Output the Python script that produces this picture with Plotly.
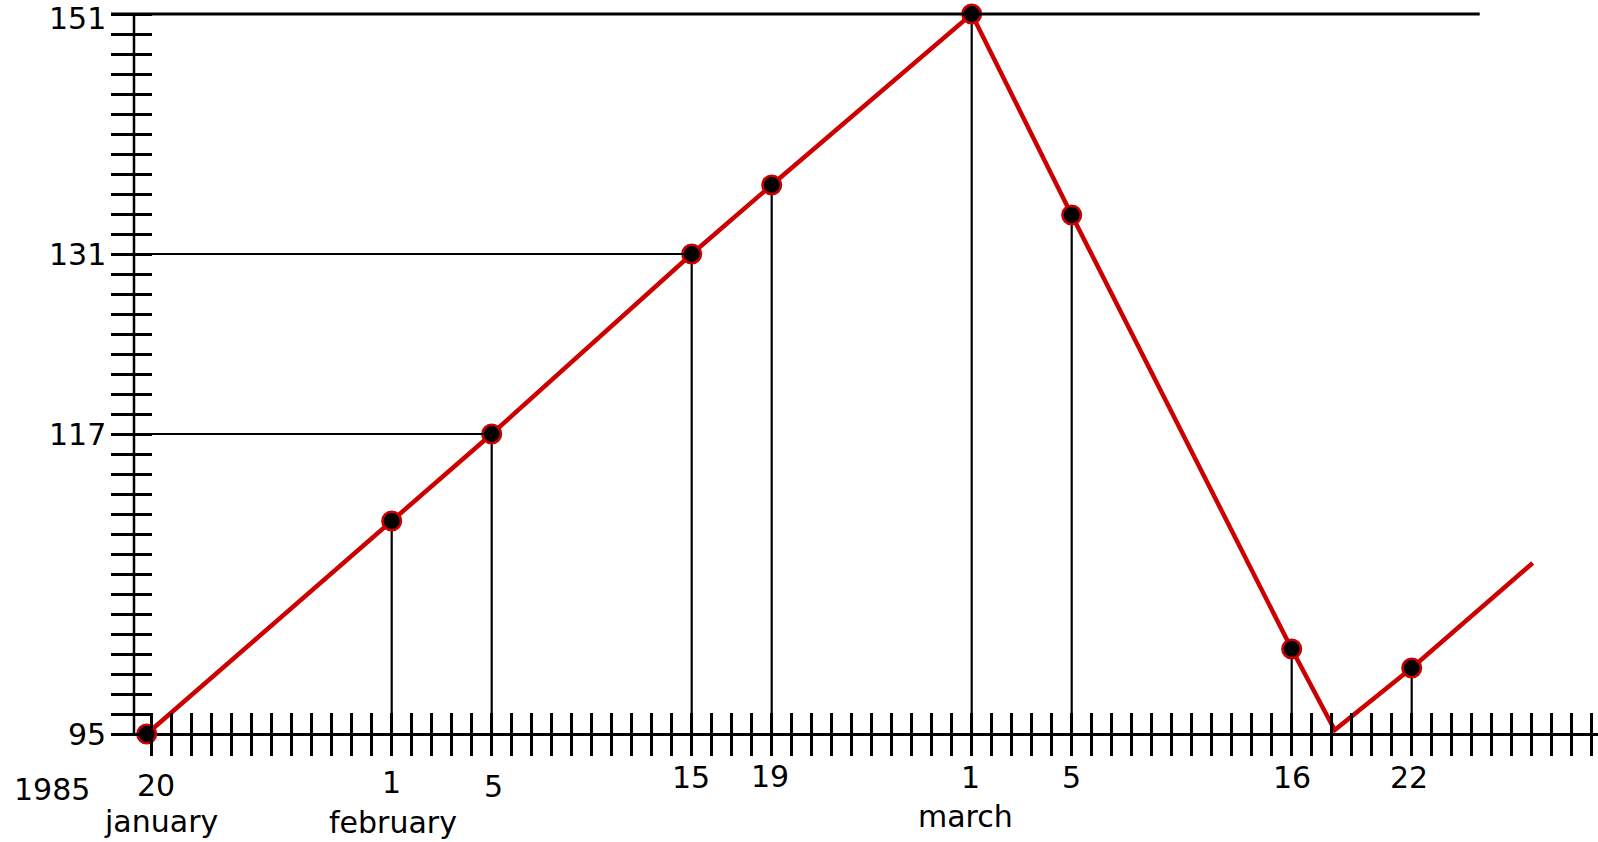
import plotly.graph_objects as go

# ---------------- data ----------------
# x: position in day-tick units along the time axis (tick 0 = 20 January 1985)
x_vals = [-0.25, 12, 17, 27, 31, 41, 46, 57, 59.15, 63, 69.05]
# y: position in scale-tick units (95 -> 0, 117 -> 15, 131 -> 24, 151 -> 36)
y_vals = [0, 10.65, 15, 24, 27.45, 36, 25.95, 4.25, 0.2, 3.3, 8.55]
has_marker = [True, True, True, True, True, True, True, True, False, True, False]
has_drop = [False, True, True, True, True, True, True, True, False, True, False]

y_label_pos = [0, 15, 24, 36]
y_label_text = ["95", "117", "131", "151"]
y_tick_count = 37
x_tick_count = 73

day_pos = [0, 12, 17, 27, 31, 41, 46, 57, 63]
day_text = ["20", "1", "5", "15", "19", "1", "5", "16", "22"]
month_pos = [0, 12, 41]
month_text = ["january", "february", "march"]
year_text = "1985"

# reference lines: level (scale units) and where they end (day units)
ref_level = [36, 24, 15]
ref_end = [66.4, 27, 17]

# ---------------- styling / geometry ----------------
W, H = 1598, 842
AX_Y_PX = 734          # pixel row of the time axis
AX_X_PX = 134          # pixel column of the value axis
PLOT_LEFT_PX = 111
Y_LABEL_RIGHT_PX = 107
X_PX0, X_STEP = 151.7, 20.0
Y_STEP = 20.0
X0 = (PLOT_LEFT_PX - X_PX0) / X_STEP
X1 = (W - X_PX0) / X_STEP
Y0 = (AX_Y_PX - H) / Y_STEP
Y1 = AX_Y_PX / Y_STEP
DROP_BOTTOM = -1.1
RED = "#CC0000"
FONT = "DejaVu Sans"
FS = 30
TXT = dict(family=FONT, size=FS, color="black")

day_label_py = [785.5, 782.5, 786, 777.5, 776, 777.5, 777.5, 777.5, 777.5]
day_label_dx = [4, 0, 2, -1, -2, -1, 0, 0, -3]
month_label_py = [821.6, 822.3, 816.6]
month_label_dx = [9, 1, -6]

fig = go.Figure()

# drop lines from the marked points to below the axis
dx, dy = [], []
for x, y, d in zip(x_vals, y_vals, has_drop):
    if d:
        dx += [x, x, None]
        dy += [y, DROP_BOTTOM, None]
fig.add_trace(go.Scatter(x=dx, y=dy, mode="lines",
                         line=dict(color="black", width=2.2), hoverinfo="skip"))

# red polyline
fig.add_trace(go.Scatter(x=x_vals, y=y_vals, mode="lines",
                         line=dict(color=RED, width=4.5), hoverinfo="skip"))

# markers
mx = [x for x, m in zip(x_vals, has_marker) if m]
my = [y for y, m in zip(y_vals, has_marker) if m]
fig.add_trace(go.Scatter(x=mx, y=my, mode="markers", cliponaxis=False,
                         marker=dict(size=18.5, color="black",
                                     line=dict(color=RED, width=2.6)),
                         hoverinfo="skip"))

# invisible trace to realise the overlaid tick axes
fig.add_trace(go.Scatter(x=[x_vals[0]], y=[y_vals[0]], xaxis="x2", yaxis="y2",
                         mode="markers", marker=dict(opacity=0), hoverinfo="skip"))

xpos = 1 - AX_Y_PX / H
ypos = AX_X_PX / W

common_x = dict(range=[X0, X1], tickmode="array", tickvals=list(range(x_tick_count)),
                ticks="outside", ticklen=21, tickwidth=3, tickcolor="black",
                showticklabels=False, showgrid=False, zeroline=False, showline=False,
                anchor="free", position=xpos, fixedrange=True)
common_y = dict(range=[Y0, Y1], tickmode="array", tickvals=list(range(y_tick_count)),
                ticks="outside", tickwidth=3, tickcolor="black", showgrid=False,
                showline=False, anchor="free", position=ypos, fixedrange=True,
                showticklabels=False)

fig.update_layout(
    width=W, height=H, margin=dict(l=0, r=0, t=0, b=0, pad=0),
    paper_bgcolor="white", plot_bgcolor="white", showlegend=False,
    xaxis=dict(domain=[PLOT_LEFT_PX / W, 1], side="bottom", **common_x),
    xaxis2=dict(overlaying="x", side="top", **common_x),
    yaxis=dict(domain=[0, 1], side="left", ticklen=23,
               zeroline=True, zerolinecolor="black", zerolinewidth=3, **common_y),
    yaxis2=dict(overlaying="y", side="right", ticklen=17, zeroline=False, **common_y),
)

# value-axis line (from 95 to 151)
fig.add_shape(type="line", xref="paper", yref="y", x0=ypos, x1=ypos,
              y0=y_label_pos[0], y1=y_label_pos[-1],
              line=dict(color="black", width=2.5))
# reference lines
for lvl, end in zip(ref_level, ref_end):
    fig.add_shape(type="line", xref="x", yref="y", x0=X0, x1=end, y0=lvl, y1=lvl,
                  line=dict(color="black", width=3 if lvl == max(ref_level) else 2.2))

# value labels (the top one nudged down so its box stays inside the page)
top_label = max(y_label_pos)
for p, t in zip(y_label_pos, y_label_text):
    fig.add_annotation(x=Y_LABEL_RIGHT_PX / W, y=p, xref="paper", yref="y", text=t,
                       showarrow=False, xanchor="right", yanchor="middle", font=TXT,
                       borderpad=0, yshift=-4 if p == top_label else 0)

# date labels
for p, t, py, ddx in zip(day_pos, day_text, day_label_py, day_label_dx):
    fig.add_annotation(x=p, y=1 - py / H, xref="x", yref="paper", text=t,
                       showarrow=False, xanchor="center", yanchor="middle", xshift=ddx,
                       font=TXT)
for p, t, py, ddx in zip(month_pos, month_text, month_label_py, month_label_dx):
    fig.add_annotation(x=p, y=1 - py / H, xref="x", yref="paper", text=t,
                       showarrow=False, xanchor="center", yanchor="middle", xshift=ddx,
                       font=TXT)
fig.add_annotation(x=51.5 / W, y=1 - 789 / H, xref="paper", yref="paper", text=year_text,
                   showarrow=False, xanchor="center", yanchor="middle", font=TXT)

fig.write_html("out.html", config={"displayModeBar": False, "staticPlot": True},
               post_script="document.body.style.margin='0';document.body.style.overflow='hidden';")
